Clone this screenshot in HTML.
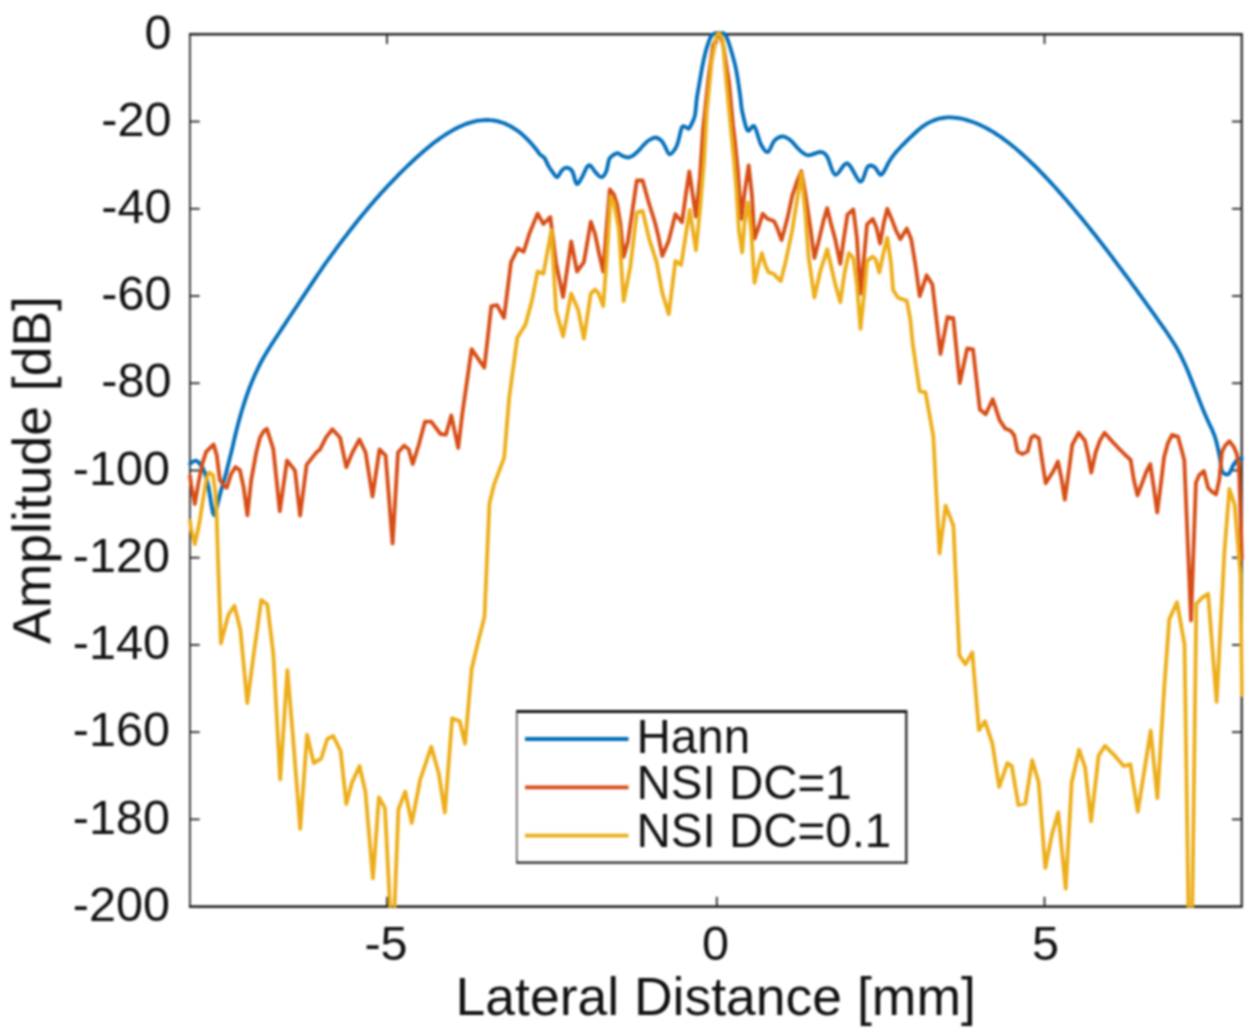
<!DOCTYPE html><html><head><meta charset="utf-8"><style>html,body{margin:0;padding:0;background:#fff;overflow:hidden;}svg{display:block;}text{font-family:"Liberation Sans",sans-serif;fill:#111;}</style></head><body>
<svg width="1260" height="1036" viewBox="0 0 1260 1036">
<rect x="0" y="0" width="1260" height="1036" fill="#fff"/>
<defs><filter id="b" x="0" y="0" width="1260" height="1036" filterUnits="userSpaceOnUse" color-interpolation-filters="sRGB"><feGaussianBlur stdDeviation="0.8"/></filter></defs>
<g filter="url(#b)">
<defs><clipPath id="c"><rect x="187.9" y="31.299999999999997" width="1055.85" height="876.3000000000001"/></clipPath></defs>
<g stroke="#262626" stroke-width="1.8" fill="none">
<line x1="188.9" y1="34.3" x2="1242.75" y2="34.3" stroke-width="2.6"/>
<line x1="188.9" y1="906.6" x2="1242.75" y2="906.6" stroke-width="2.1" stroke="#000"/>
<line x1="189.9" y1="34.3" x2="189.9" y2="906.6" stroke-width="1.75"/>
<line x1="1241.75" y1="34.3" x2="1241.75" y2="906.6" stroke-width="2.2"/>
<line x1="189.9" y1="34.30" x2="199.70000000000002" y2="34.30"/>
<line x1="1241.75" y1="34.30" x2="1231.95" y2="34.30"/>
<line x1="189.9" y1="121.53" x2="199.70000000000002" y2="121.53"/>
<line x1="1241.75" y1="121.53" x2="1231.95" y2="121.53"/>
<line x1="189.9" y1="208.76" x2="199.70000000000002" y2="208.76"/>
<line x1="1241.75" y1="208.76" x2="1231.95" y2="208.76"/>
<line x1="189.9" y1="295.99" x2="199.70000000000002" y2="295.99"/>
<line x1="1241.75" y1="295.99" x2="1231.95" y2="295.99"/>
<line x1="189.9" y1="383.22" x2="199.70000000000002" y2="383.22"/>
<line x1="1241.75" y1="383.22" x2="1231.95" y2="383.22"/>
<line x1="189.9" y1="470.45" x2="199.70000000000002" y2="470.45"/>
<line x1="1241.75" y1="470.45" x2="1231.95" y2="470.45"/>
<line x1="189.9" y1="557.68" x2="199.70000000000002" y2="557.68"/>
<line x1="1241.75" y1="557.68" x2="1231.95" y2="557.68"/>
<line x1="189.9" y1="644.91" x2="199.70000000000002" y2="644.91"/>
<line x1="1241.75" y1="644.91" x2="1231.95" y2="644.91"/>
<line x1="189.9" y1="732.14" x2="199.70000000000002" y2="732.14"/>
<line x1="1241.75" y1="732.14" x2="1231.95" y2="732.14"/>
<line x1="189.9" y1="819.37" x2="199.70000000000002" y2="819.37"/>
<line x1="1241.75" y1="819.37" x2="1231.95" y2="819.37"/>
<line x1="189.9" y1="906.60" x2="199.70000000000002" y2="906.60"/>
<line x1="1241.75" y1="906.60" x2="1231.95" y2="906.60"/>
<line x1="387" y1="906.6" x2="387" y2="896.8000000000001"/>
<line x1="387" y1="34.3" x2="387" y2="44.099999999999994"/>
<line x1="716.8" y1="906.6" x2="716.8" y2="896.8000000000001"/>
<line x1="716.8" y1="34.3" x2="716.8" y2="44.099999999999994"/>
<line x1="1044.5" y1="906.6" x2="1044.5" y2="896.8000000000001"/>
<line x1="1044.5" y1="34.3" x2="1044.5" y2="44.099999999999994"/>
</g>
<g clip-path="url(#c)" fill="none" stroke-width="3.8" stroke-linejoin="round" stroke-linecap="round">
<path stroke="#006DB9" d="M190.00,463.90 C190.90,463.37 193.67,460.60 195.40,460.70 C197.13,460.80 198.83,462.52 200.40,464.50 C201.97,466.48 203.43,468.73 204.80,472.60 C206.17,476.47 207.45,482.05 208.60,487.70 C209.75,493.35 210.77,501.90 211.70,506.50 C212.63,511.10 213.27,515.52 214.20,515.30 C215.13,515.08 216.15,509.38 217.30,505.20 C218.45,501.02 219.83,494.80 221.10,490.20 C222.37,485.60 223.43,483.03 224.90,477.60 C226.37,472.17 228.73,462.25 229.90,457.60 C231.07,452.95 231.07,453.18 231.90,449.70 C232.73,446.22 233.90,440.85 234.90,436.70 C235.90,432.55 236.90,428.60 237.90,424.80 C238.90,421.00 239.90,417.37 240.90,413.90 C241.90,410.43 242.90,407.15 243.90,404.00 C244.90,400.85 245.90,397.87 246.90,395.00 C247.90,392.13 248.90,389.40 249.90,386.80 C250.90,384.20 251.90,381.77 252.90,379.40 C253.90,377.03 254.90,374.78 255.90,372.60 C256.90,370.42 257.90,368.32 258.90,366.30 C259.90,364.28 260.90,362.35 261.90,360.50 C262.90,358.65 263.90,356.92 264.90,355.20 C265.90,353.48 266.90,351.83 267.90,350.20 C268.90,348.57 269.90,346.98 270.90,345.40 C271.90,343.82 272.90,342.23 273.90,340.70 C274.90,339.17 275.90,337.70 276.90,336.20 C277.90,334.70 278.90,333.22 279.90,331.70 C280.90,330.18 281.90,328.62 282.90,327.10 C283.90,325.58 284.90,324.12 285.90,322.60 C286.90,321.08 287.90,319.52 288.90,318.00 C289.90,316.48 290.90,315.00 291.90,313.50 C292.90,312.00 293.90,310.50 294.90,309.00 C295.90,307.50 296.90,306.02 297.90,304.50 C298.90,302.98 299.90,301.42 300.90,299.90 C301.90,298.38 302.90,296.90 303.90,295.40 C304.90,293.90 305.90,292.40 306.90,290.90 C307.90,289.40 308.90,287.90 309.90,286.40 C310.90,284.90 311.90,283.40 312.90,281.90 C313.90,280.40 314.90,278.88 315.90,277.40 C316.90,275.92 317.90,274.47 318.90,273.00 C319.90,271.53 320.90,270.07 321.90,268.60 C322.90,267.13 323.90,265.63 324.90,264.20 C325.90,262.77 326.90,261.40 327.90,260.00 C328.90,258.60 329.90,257.17 330.90,255.80 C331.90,254.43 332.90,253.15 333.90,251.80 C334.90,250.45 335.90,249.05 336.90,247.70 C337.90,246.35 338.90,245.03 339.90,243.70 C340.90,242.37 341.90,241.02 342.90,239.70 C343.90,238.38 344.90,237.10 345.90,235.80 C346.90,234.50 347.90,233.20 348.90,231.90 C349.90,230.60 350.90,229.28 351.90,228.00 C352.90,226.72 353.90,225.47 354.90,224.20 C355.90,222.93 356.90,221.65 357.90,220.40 C358.90,219.15 359.90,217.92 360.90,216.70 C361.90,215.48 362.90,214.30 363.90,213.10 C364.90,211.90 365.90,210.70 366.90,209.50 C367.90,208.30 368.90,207.07 369.90,205.90 C370.90,204.73 371.90,203.65 372.90,202.50 C373.90,201.35 374.90,200.13 375.90,199.00 C376.90,197.87 377.90,196.82 378.90,195.70 C379.90,194.58 380.90,193.40 381.90,192.30 C382.90,191.20 383.90,190.18 384.90,189.10 C385.90,188.02 386.90,186.87 387.90,185.80 C388.90,184.73 389.90,183.73 390.90,182.70 C391.90,181.67 392.90,180.63 393.90,179.60 C394.90,178.57 395.90,177.53 396.90,176.50 C397.90,175.47 398.90,174.40 399.90,173.40 C400.90,172.40 401.90,171.48 402.90,170.50 C403.90,169.52 404.90,168.48 405.90,167.50 C406.90,166.52 407.90,165.55 408.90,164.60 C409.90,163.65 410.90,162.73 411.90,161.80 C412.90,160.87 413.90,159.92 414.90,159.00 C415.90,158.08 416.90,157.20 417.90,156.30 C418.90,155.40 419.90,154.48 420.90,153.60 C421.90,152.72 422.90,151.85 423.90,151.00 C424.90,150.15 425.90,149.33 426.90,148.50 C427.90,147.67 428.90,146.82 429.90,146.00 C430.90,145.18 431.90,144.38 432.90,143.60 C433.90,142.82 434.90,142.05 435.90,141.30 C436.90,140.55 437.90,139.82 438.90,139.10 C439.90,138.38 440.90,137.68 441.90,137.00 C442.90,136.32 443.90,135.65 444.90,135.00 C445.90,134.35 446.90,133.72 447.90,133.10 C448.90,132.48 449.90,131.88 450.90,131.30 C451.90,130.72 452.90,130.15 453.90,129.60 C454.90,129.05 455.90,128.52 456.90,128.00 C457.90,127.48 458.90,126.97 459.90,126.50 C460.90,126.03 461.90,125.62 462.90,125.20 C463.90,124.78 464.90,124.37 465.90,124.00 C466.90,123.63 467.90,123.32 468.90,123.00 C469.90,122.68 470.90,122.38 471.90,122.10 C472.90,121.82 473.90,121.53 474.90,121.30 C475.90,121.07 476.90,120.87 477.90,120.70 C478.90,120.53 479.90,120.40 480.90,120.30 C481.90,120.20 482.90,120.15 483.90,120.10 C484.90,120.05 485.90,120.00 486.90,120.00 C487.90,120.00 488.90,120.03 489.90,120.10 C490.90,120.17 491.90,120.27 492.90,120.40 C493.90,120.53 494.90,120.70 495.90,120.90 C496.90,121.10 497.90,121.33 498.90,121.60 C499.90,121.87 500.90,122.17 501.90,122.50 C502.90,122.83 503.90,123.18 504.90,123.60 C505.90,124.02 506.90,124.52 507.90,125.00 C508.90,125.48 509.90,125.95 510.90,126.50 C511.90,127.05 512.90,127.67 513.90,128.30 C514.90,128.93 515.90,129.58 516.90,130.30 C517.90,131.02 518.90,131.80 519.90,132.60 C520.90,133.40 521.90,134.22 522.90,135.10 C523.90,135.98 524.90,136.93 525.90,137.90 C526.90,138.87 527.90,139.85 528.90,140.90 C529.90,141.95 530.90,143.05 531.90,144.20 C532.90,145.35 533.90,146.57 534.90,147.80 C535.90,149.03 537.05,150.48 537.90,151.60 C538.75,152.72 538.92,153.45 540.00,154.50 C541.08,155.55 543.02,156.05 544.40,157.90 C545.78,159.75 547.02,163.35 548.30,165.60 C549.58,167.85 550.65,169.47 552.10,171.40 C553.55,173.33 555.38,177.35 557.00,177.20 C558.62,177.05 560.20,172.10 561.80,170.50 C563.40,168.90 564.83,167.45 566.60,167.60 C568.37,167.75 570.72,168.67 572.40,171.40 C574.08,174.13 575.10,183.03 576.70,184.00 C578.30,184.97 580.30,180.02 582.00,177.20 C583.70,174.38 585.52,169.03 586.90,167.10 C588.28,165.17 588.85,164.72 590.30,165.60 C591.75,166.48 593.75,170.47 595.60,172.40 C597.45,174.33 599.63,177.37 601.40,177.20 C603.17,177.03 604.92,174.37 606.20,171.40 C607.48,168.43 608.13,161.97 609.10,159.40 C610.07,156.83 610.60,157.03 612.00,156.00 C613.40,154.97 615.82,153.25 617.50,153.20 C619.18,153.15 620.37,154.98 622.10,155.70 C623.83,156.42 626.10,157.50 627.90,157.50 C629.70,157.50 631.12,156.83 632.90,155.70 C634.68,154.57 636.82,152.48 638.60,150.70 C640.38,148.92 641.82,146.78 643.60,145.00 C645.38,143.22 647.28,141.25 649.30,140.00 C651.32,138.75 653.68,137.38 655.70,137.50 C657.72,137.62 659.85,139.22 661.40,140.70 C662.95,142.18 663.63,144.13 665.00,146.40 C666.37,148.67 667.82,154.05 669.60,154.30 C671.38,154.55 674.20,150.28 675.70,147.90 C677.20,145.52 677.53,143.47 678.60,140.00 C679.67,136.53 680.80,129.18 682.10,127.10 C683.40,125.02 685.27,127.25 686.40,127.50 C687.53,127.75 687.95,129.37 688.90,128.60 C689.85,127.83 691.08,125.17 692.10,122.90 C693.12,120.63 694.25,118.82 695.00,115.00 C695.75,111.18 696.22,103.33 696.60,100.00 C696.98,96.67 696.80,98.00 697.30,95.00 C697.80,92.00 698.77,86.73 699.60,82.00 C700.43,77.27 701.27,71.75 702.30,66.60 C703.33,61.45 704.68,55.37 705.80,51.10 C706.92,46.83 708.05,43.60 709.00,41.00 C709.95,38.40 710.50,36.80 711.50,35.50 C712.50,34.20 713.70,33.68 715.00,33.20 C716.30,32.72 717.88,32.60 719.30,32.60 C720.72,32.60 722.38,32.68 723.50,33.20 C724.62,33.72 725.17,34.23 726.00,35.70 C726.83,37.17 727.62,39.43 728.50,42.00 C729.38,44.57 730.13,47.00 731.30,51.10 C732.47,55.20 734.35,61.45 735.50,66.60 C736.65,71.75 737.38,76.87 738.20,82.00 C739.02,87.13 739.75,92.60 740.40,97.40 C741.05,102.20 740.92,105.30 742.10,110.80 C743.28,116.30 745.47,127.82 747.50,130.40 C749.53,132.98 752.05,123.95 754.30,126.30 C756.55,128.65 758.75,140.22 761.00,144.50 C763.25,148.78 765.55,152.67 767.80,152.00 C770.05,151.33 772.03,143.10 774.50,140.50 C776.97,137.90 779.90,136.40 782.60,136.40 C785.30,136.40 787.77,138.13 790.70,140.50 C793.63,142.87 797.27,148.13 800.20,150.60 C803.13,153.07 804.93,155.07 808.30,155.30 C811.67,155.53 817.25,151.77 820.40,152.00 C823.55,152.23 824.72,152.88 827.20,156.70 C829.68,160.52 831.93,173.78 835.30,174.90 C838.67,176.02 843.25,162.28 847.40,163.40 C851.55,164.52 856.82,181.03 860.20,181.60 C863.58,182.17 865.33,169.27 867.70,166.80 C870.07,164.33 872.27,165.45 874.40,166.80 C876.53,168.15 878.73,174.43 880.50,174.90 C882.27,175.37 883.75,171.48 885.00,169.60 C886.25,167.72 887.00,165.42 888.00,163.60 C889.00,161.78 890.00,160.20 891.00,158.70 C892.00,157.20 893.00,155.88 894.00,154.60 C895.00,153.32 896.00,152.13 897.00,151.00 C898.00,149.87 899.00,148.85 900.00,147.80 C901.00,146.75 902.00,145.72 903.00,144.70 C904.00,143.68 905.00,142.70 906.00,141.70 C907.00,140.70 908.00,139.68 909.00,138.70 C910.00,137.72 911.00,136.75 912.00,135.80 C913.00,134.85 914.00,133.92 915.00,133.00 C916.00,132.08 917.00,131.17 918.00,130.30 C919.00,129.43 920.00,128.58 921.00,127.80 C922.00,127.02 923.00,126.28 924.00,125.60 C925.00,124.92 926.00,124.28 927.00,123.70 C928.00,123.12 929.00,122.60 930.00,122.10 C931.00,121.60 932.00,121.12 933.00,120.70 C934.00,120.28 935.00,119.93 936.00,119.60 C937.00,119.27 938.00,118.95 939.00,118.70 C940.00,118.45 941.00,118.27 942.00,118.10 C943.00,117.93 944.00,117.82 945.00,117.70 C946.00,117.58 947.00,117.45 948.00,117.40 C949.00,117.35 950.00,117.37 951.00,117.40 C952.00,117.43 953.00,117.52 954.00,117.60 C955.00,117.68 956.00,117.77 957.00,117.90 C958.00,118.03 959.00,118.22 960.00,118.40 C961.00,118.58 962.00,118.77 963.00,119.00 C964.00,119.23 965.00,119.52 966.00,119.80 C967.00,120.08 968.00,120.38 969.00,120.70 C970.00,121.02 971.00,121.35 972.00,121.70 C973.00,122.05 974.00,122.40 975.00,122.80 C976.00,123.20 977.00,123.67 978.00,124.10 C979.00,124.53 980.00,124.93 981.00,125.40 C982.00,125.87 983.00,126.38 984.00,126.90 C985.00,127.42 986.00,127.95 987.00,128.50 C988.00,129.05 989.00,129.63 990.00,130.20 C991.00,130.77 992.00,131.30 993.00,131.90 C994.00,132.50 995.00,133.15 996.00,133.80 C997.00,134.45 998.00,135.12 999.00,135.80 C1000.00,136.48 1001.00,137.18 1002.00,137.90 C1003.00,138.62 1004.00,139.37 1005.00,140.10 C1006.00,140.83 1007.00,141.53 1008.00,142.30 C1009.00,143.07 1010.00,143.90 1011.00,144.70 C1012.00,145.50 1013.00,146.28 1014.00,147.10 C1015.00,147.92 1016.00,148.75 1017.00,149.60 C1018.00,150.45 1019.00,151.32 1020.00,152.20 C1021.00,153.08 1022.00,154.00 1023.00,154.90 C1024.00,155.80 1025.00,156.68 1026.00,157.60 C1027.00,158.52 1028.00,159.45 1029.00,160.40 C1030.00,161.35 1031.00,162.33 1032.00,163.30 C1033.00,164.27 1034.00,165.22 1035.00,166.20 C1036.00,167.18 1037.00,168.18 1038.00,169.20 C1039.00,170.22 1040.00,171.27 1041.00,172.30 C1042.00,173.33 1043.00,174.37 1044.00,175.40 C1045.00,176.43 1046.00,177.43 1047.00,178.50 C1048.00,179.57 1049.00,180.72 1050.00,181.80 C1051.00,182.88 1052.00,183.92 1053.00,185.00 C1054.00,186.08 1055.00,187.18 1056.00,188.30 C1057.00,189.42 1058.00,190.57 1059.00,191.70 C1060.00,192.83 1061.00,193.97 1062.00,195.10 C1063.00,196.23 1064.00,197.35 1065.00,198.50 C1066.00,199.65 1067.00,200.83 1068.00,202.00 C1069.00,203.17 1070.00,204.32 1071.00,205.50 C1072.00,206.68 1073.00,207.90 1074.00,209.10 C1075.00,210.30 1076.00,211.50 1077.00,212.70 C1078.00,213.90 1079.00,215.08 1080.00,216.30 C1081.00,217.52 1082.00,218.77 1083.00,220.00 C1084.00,221.23 1085.00,222.47 1086.00,223.70 C1087.00,224.93 1088.00,226.15 1089.00,227.40 C1090.00,228.65 1091.00,229.95 1092.00,231.20 C1093.00,232.45 1094.00,233.63 1095.00,234.90 C1096.00,236.17 1097.00,237.52 1098.00,238.80 C1099.00,240.08 1100.00,241.32 1101.00,242.60 C1102.00,243.88 1103.00,245.20 1104.00,246.50 C1105.00,247.80 1106.00,249.10 1107.00,250.40 C1108.00,251.70 1109.00,252.98 1110.00,254.30 C1111.00,255.62 1112.00,256.97 1113.00,258.30 C1114.00,259.63 1115.00,260.97 1116.00,262.30 C1117.00,263.63 1118.00,264.97 1119.00,266.30 C1120.00,267.63 1121.00,268.95 1122.00,270.30 C1123.00,271.65 1124.00,273.05 1125.00,274.40 C1126.00,275.75 1127.00,277.05 1128.00,278.40 C1129.00,279.75 1130.00,281.13 1131.00,282.50 C1132.00,283.87 1133.00,285.23 1134.00,286.60 C1135.00,287.97 1136.00,289.32 1137.00,290.70 C1138.00,292.08 1139.00,293.52 1140.00,294.90 C1141.00,296.28 1142.00,297.62 1143.00,299.00 C1144.00,300.38 1145.00,301.82 1146.00,303.20 C1147.00,304.58 1148.00,305.92 1149.00,307.30 C1150.00,308.68 1151.00,310.10 1152.00,311.50 C1153.00,312.90 1154.00,314.28 1155.00,315.70 C1156.00,317.12 1157.00,318.58 1158.00,320.00 C1159.00,321.42 1160.00,322.80 1161.00,324.20 C1162.00,325.60 1163.00,326.98 1164.00,328.40 C1165.00,329.82 1166.00,331.23 1167.00,332.70 C1168.00,334.17 1169.00,335.67 1170.00,337.20 C1171.00,338.73 1172.00,340.30 1173.00,341.90 C1174.00,343.50 1175.00,345.08 1176.00,346.80 C1177.00,348.52 1178.00,350.32 1179.00,352.20 C1180.00,354.08 1181.00,356.03 1182.00,358.10 C1183.00,360.17 1184.00,362.35 1185.00,364.60 C1186.00,366.85 1187.00,369.20 1188.00,371.60 C1189.00,374.00 1190.00,376.50 1191.00,379.00 C1192.00,381.50 1193.00,384.05 1194.00,386.60 C1195.00,389.15 1196.00,391.73 1197.00,394.30 C1198.00,396.87 1199.00,399.47 1200.00,402.00 C1201.00,404.53 1202.00,407.07 1203.00,409.50 C1204.00,411.93 1205.00,414.30 1206.00,416.60 C1207.00,418.90 1208.02,421.20 1209.00,423.30 C1209.98,425.40 1210.80,426.57 1211.90,429.20 C1213.00,431.83 1214.28,434.43 1215.60,439.10 C1216.92,443.77 1218.73,451.88 1219.80,457.20 C1220.87,462.52 1220.58,468.17 1222.00,471.00 C1223.42,473.83 1226.37,475.27 1228.30,474.20 C1230.23,473.13 1232.00,467.08 1233.60,464.60 C1235.20,462.12 1236.50,460.37 1237.90,459.30 C1239.30,458.23 1241.32,458.38 1242.00,458.20"/>
<polyline stroke="#D64C14" points="190,476 191,484 194.8,504 198.5,482.7 202.3,463.9 206.1,451.9 213.6,444.4 216.7,455.1 219.9,480.2 223.6,485.2 226.8,487.7 231.1,473.9 235.5,467 239.9,470.1 243.7,487.7 247.4,515.3 251.2,480.2 256.2,452.6 260,437.5 263.7,431.3 266.8,428.7 273.3,449 279.8,511.2 287,460.5 295,470.7 300.1,515.6 306.6,464.9 316.8,451.9 320,449.4 326.2,437.1 332.4,429.3 340.1,437.8 346.3,467.2 352.4,452.5 359.4,439.4 365.6,452.5 372.5,496.5 379.5,449.4 385.6,455.6 392.6,543.6 398,452.5 404.2,445.6 408.8,449.4 412.7,464.1 418.8,444.8 425,421.6 431.2,421.6 440.5,434 445.9,434.7 451.3,415.4 458.2,447.9 462.3,413.9 471.6,349.1 484.3,367.6 491.3,306.2 497.1,305.1 504,317.8 511,262.2 517.9,248.3 523.7,251.8 529.5,233.3 537.6,213.6 543.4,224 550.3,217.1 556.1,263.4 563.1,297 571.2,241.4 577,271.5 583.9,262.2 590.8,221.7 595,233.8 599.1,253.5 603.2,271.6 606.5,228.9 609.8,189.5 613.9,194.5 617.1,204.3 620.4,224 623.7,256.8 627.8,242 631.9,214.1 636.8,180.5 642.6,180.5 648.3,201 654.9,222.3 658.2,235.5 662.3,256 668.8,240.4 675.4,214.1 682,222.3 686.1,192.8 689.3,171.5 695.9,216.6 700,176.4 703,130 708.8,75.7 713.2,45.3 719.3,33 723.3,45.3 729.1,83 733,125 734.8,140 738.1,172.8 741.3,218.8 744.6,192.5 748.7,165.4 752,195.8 754.5,238.5 758.6,227 762.7,213.8 767.6,218.8 774.2,221.2 777.5,228.6 781.6,240.1 787.3,218.8 792.2,195.8 797.2,181 801.3,171.2 805.4,194.2 810.3,227 814.4,258.1 818.5,241.7 823.6,220.4 827.2,208.1 830.9,223.3 835.2,239.2 840.3,263.8 843.9,237.8 847.5,214.6 853.3,209.5 856.9,237.8 860.5,293.5 864.1,256.6 867,224.7 872.8,218.9 876.4,227.6 880.1,243.5 883.7,223.3 887.3,208.8 891.6,218.9 896,230.5 900.3,239.2 906.8,228.4 911.2,239.2 915.5,265.3 919.7,296.1 926.6,275.3 932.4,284.5 940.5,354 947.5,317 953.3,318.1 959.8,383 967.2,348.3 973,349.4 979.9,409.6 985.7,414.3 992.7,399.2 999.6,420.1 1005.3,428.6 1010.6,430.7 1014.3,435.5 1017.5,451.4 1022.3,454.1 1027.6,451.4 1031.3,437.6 1034,435.5 1038.8,438.1 1042.5,463.1 1045.7,483.3 1053.1,471.6 1057.9,461.5 1061.6,479 1064.8,499.7 1069,469.5 1072.2,445 1078.6,432.8 1085,440.8 1088.1,454.6 1091.3,472.7 1095.6,452.5 1099.8,440.8 1104.6,432.8 1112.6,441.9 1120,449.7 1125.3,455 1130.6,459.8 1133.8,479.5 1137.5,495.4 1142.3,482.7 1146.6,471 1150.3,464.1 1154,489 1157.2,512.4 1160.9,483.7 1164.1,457.2 1167.8,443.4 1172,434.9 1177.9,436.5 1181.6,449.7 1184.3,460.4 1191,620.5 1195.9,482.7 1199.1,475.2 1203.9,471 1208.2,488 1212.4,492.2 1216.1,494.4 1219.3,479.5 1222,451.9 1225.2,445.5 1229.4,441.2 1233.6,446.6 1236.8,454 1239,467.8 1242,559"/>
<polyline stroke="#ECAD18" points="190,521 191,529 194.8,544.1 199.2,524 202.9,500.2 206.7,477.6 209.2,472.6 213,475.1 215.5,492.7 216.7,517.8 218,560 220.9,643.3 228.4,614.8 234.4,605.8 240.4,629.8 247.3,703.1 253.8,653.7 261.3,599.9 267.3,604.4 273.3,653.7 280.2,779.4 287.4,670.2 292.8,734.6 300.2,828.8 307.1,734.6 313.7,763 321.2,758.5 327.2,739 333.2,736 340.6,751 346.3,804 352,782.6 359.5,766.1 365.4,791.6 372.9,878.4 378.9,797.5 384.9,808 392.6,956 398.4,809.5 405.2,791.6 411.8,823 420.2,779.6 431.3,746.7 438.8,773.6 444.8,812.5 452.2,718.2 459.7,721.2 465.1,743.7 471.7,668.8 477.7,643.4 484.5,616.8 489.4,503.5 494.3,483.8 504.2,457.6 509.1,398.5 517.3,337.8 525.5,324.6 532.1,300 537.6,271.5 543.4,273.8 551.5,229.8 556.1,310.8 563.1,336.3 571.2,293.5 578.1,309.7 583.9,338.6 590.8,293.5 595,289.6 598.3,292.9 603.2,306 606.5,261.7 610.6,196.1 613.9,202.7 618.8,228.9 623.7,301.1 630.3,266.6 636.8,212.5 642.6,210.9 649.1,238.8 656.5,261.7 662.3,292.9 668.8,314.2 675.4,260.9 681.1,265 685.2,238.8 689.8,210 695.9,250.2 700,209.2 704.1,160 706.7,112 711.7,61.2 716.8,35.1 719.3,33 722.6,39.5 726.5,83 731,130 734,160 736.4,189.2 738.9,230.3 742.2,252.4 744.6,222 747.9,202.4 751.2,230.3 754.5,282.8 758.6,264.7 761.9,253.2 765.2,264.7 768.4,272.1 773.4,273.7 777.5,277.8 780.8,281.1 785.7,261.4 792.2,230.3 797.2,199.1 801.3,172.8 805.4,213.8 808.7,258.1 814.4,297.5 820.2,271.3 823.6,260.9 827.2,249.3 830.9,265.3 835.2,284.1 840.3,302.2 844.6,272.5 848.9,253 853.3,258 856.9,284.1 860.5,328.9 864.1,294.2 867,260.9 872.8,256.6 875.7,259.5 879.3,272.5 883.7,252.2 887.3,237.8 890.9,262.4 893.1,289.9 898.1,297.8 906.8,300.7 910.4,320.2 912.7,343.6 919.7,391.1 925.5,392.3 933.3,436 939.5,553.5 945.6,505.6 953.4,525.7 957,605 959.4,655.4 965.4,664.3 972.3,652.4 978.9,730.2 984.9,721.2 992.4,743.6 999.2,787 1007.3,763.1 1011.8,766.1 1018.4,805 1025.3,803.5 1032.2,760.1 1038.7,782.5 1045.3,867.8 1052.2,833.4 1058.2,812.4 1065.7,888.7 1071.7,782.5 1079.1,749.6 1085.1,767.6 1091.1,821.4 1098.6,755.6 1105.1,745.8 1113.5,754.3 1123.6,766.1 1130.4,764.4 1137.8,811.7 1150.7,730.6 1157.4,798.2 1164.2,688.4 1169.3,619.1 1177,602.2 1184.5,644.5 1190.5,1048 1196.3,603.9 1202.8,597.1 1208.1,593.8 1216.6,701.9 1224.5,550.7 1229.4,489 1234.7,505 1240.4,573.9 1242,695"/>
</g>
<text x="171.5" y="48.50" font-size="48.6" text-anchor="end">0</text>
<text x="171.5" y="135.73" font-size="48.6" text-anchor="end">-20</text>
<text x="171.5" y="222.96" font-size="48.6" text-anchor="end">-40</text>
<text x="171.5" y="310.19" font-size="48.6" text-anchor="end">-60</text>
<text x="171.5" y="397.42" font-size="48.6" text-anchor="end">-80</text>
<text x="170.0" y="484.65" font-size="48.6" text-anchor="end">-100</text>
<text x="170.0" y="571.88" font-size="48.6" text-anchor="end">-120</text>
<text x="170.0" y="659.11" font-size="48.6" text-anchor="end">-140</text>
<text x="170.0" y="746.34" font-size="48.6" text-anchor="end">-160</text>
<text x="170.0" y="833.57" font-size="48.6" text-anchor="end">-180</text>
<text x="170.0" y="920.80" font-size="48.6" text-anchor="end">-200</text>
<text x="386" y="960" font-size="48.6" text-anchor="middle">-5</text>
<text x="715.5" y="960" font-size="48.6" text-anchor="middle">0</text>
<text x="1045.5" y="960" font-size="48.6" text-anchor="middle">5</text>
<text x="715.7" y="1015.2" font-size="53.5" text-anchor="middle">Lateral Distance [mm]</text>
<text transform="translate(50.4,470) rotate(-90)" x="0" y="0" font-size="53.5" text-anchor="middle">Amplitude [dB]</text>
<rect x="516.8" y="711.4" width="389.5" height="151.30000000000007" fill="#fff"/>
<g stroke="#262626" fill="none">
<line x1="516.1999999999999" y1="711.4" x2="907.3" y2="711.4" stroke-width="3.0" stroke="#141414"/>
<line x1="516.1999999999999" y1="862.7" x2="907.3" y2="862.7" stroke-width="2.3"/>
<line x1="516.8" y1="711.4" x2="516.8" y2="862.7" stroke-width="1.2"/>
<line x1="906.3" y1="711.4" x2="906.3" y2="863.7" stroke-width="2.3"/>
</g>
<line x1="525" y1="739.0" x2="628.5" y2="739.0" stroke="#006DB9" stroke-width="3.8"/>
<text x="636.5" y="752.5" font-size="47.5" fill="#000">Hann</text>
<line x1="525" y1="787.4" x2="628.5" y2="787.4" stroke="#D64C14" stroke-width="3.8"/>
<text x="636.5" y="799.2" font-size="47.5" fill="#000">NSI DC=1</text>
<line x1="525" y1="835.7" x2="628.5" y2="835.7" stroke="#ECAD18" stroke-width="3.8"/>
<text x="636.5" y="847.2" font-size="47.5" fill="#000">NSI DC=0.1</text>
</g>
</svg></body></html>
